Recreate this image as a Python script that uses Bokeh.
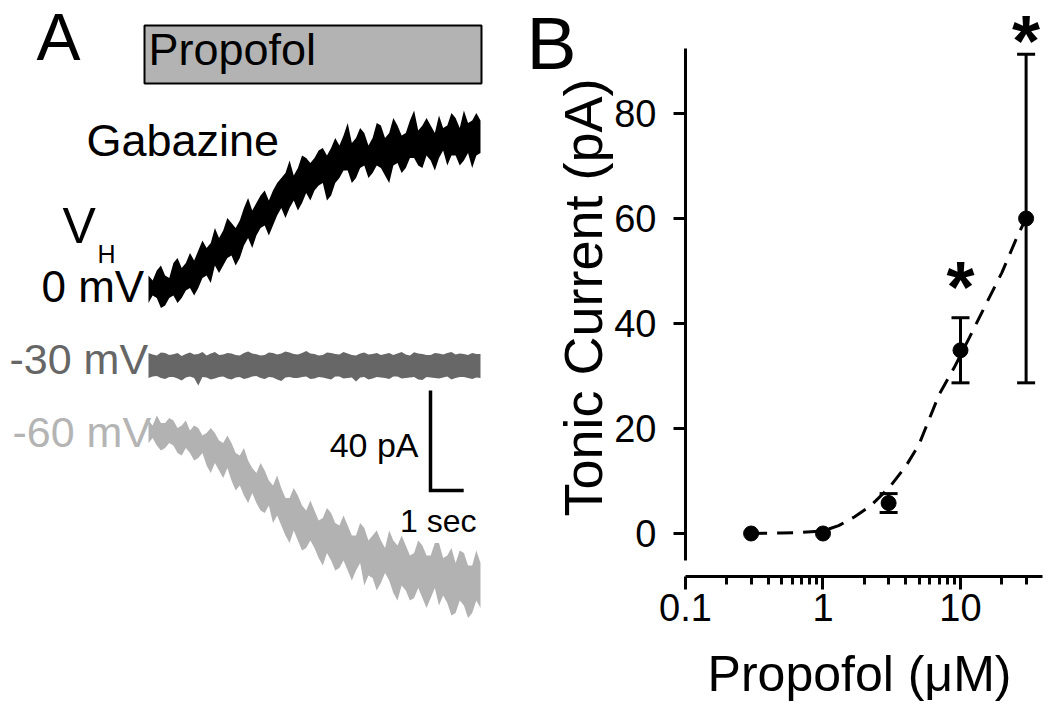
from bokeh.plotting import figure
from bokeh.models import (Range1d, FixedTicker, CustomJSTickFormatter, Whisker,
                          TeeHead, ColumnDataSource, LogScale, LogAxis,
                          LinearAxis)
from bokeh.core.properties import value
from bokeh.embed import file_html
from bokeh.resources import INLINE

FONT = "Liberation Sans"

# ---------------- Panel A data (time in s, current in pA, traces offset) ----
time_s = [i / 8 for i in range(81)]

# 0 mV (black) trace envelope
v0_upper = [36, 34, 38, 40, 36, 35, 41, 43, 39, 41, 45, 42,
            46, 50, 47, 49,
            55, 51, 54, 59, 57, 55, 58, 63, 67, 62, 65, 68, 70, 66, 70, 73,
            75, 77, 82, 76, 79, 84, 83, 81, 83,
            86, 87, 84, 87, 91, 88, 92, 97,
            89, 91, 95, 93,
            88, 91, 97, 96, 91, 93, 99, 96, 92, 93, 98, 102, 94, 96, 99, 96,
            93, 100, 95, 96, 101, 99, 95, 102, 97, 98, 101, 98]
v0_lower = [25, 28, 27, 23, 24, 27, 28, 25, 27, 30, 31, 28,
            31, 35, 36, 33,
            40, 37, 40, 43, 44, 40, 43, 48, 51, 47, 52, 55, 56, 52, 56, 60,
            63, 59, 63, 66, 62, 65, 69, 66, 70,
            72, 73, 66, 68, 73, 75, 78, 78,
            73, 75, 79, 80,
            75, 77, 80, 79, 76, 73, 80, 81, 77, 79, 83, 83, 80, 79, 84, 82,
            78, 83, 86, 80, 84, 84, 80, 82, 85, 79, 84, 85]

# -30 mV (dark grey) trace envelope
v30_upper = [5, 4.4, 4, 5.2, 5, 4.2, 4.5, 5, 3.8, 4.6, 5.2, 4.4, 4.6, 5.4, 4,
             4.8, 5.4, 4.2, 4.4, 5, 4.8, 4.2, 4, 5, 5.6, 4.8, 4.5, 4, 4.2,
             5.2, 5, 4.4, 4.8, 5.6, 5.2, 4.6, 4.4, 5, 5.8, 4.8, 4.6, 4, 4.2,
             5.2, 5, 4.6, 4.4, 5.4, 4.8, 4.2, 4, 4.8, 5.2, 4.4, 4.6, 5, 4.2,
             4.6, 5, 4.2, 4.8, 5.4, 4.4, 4, 5.3, 4.8, 4.6, 4.2, 4.2, 5, 4.8,
             4.4, 5, 5.4, 4.4, 4.8, 4.6, 4.2, 5, 4.6, 4.6]
v30_lower = [-5, -4.4, -4.2, -5, -5.4, -4.6, -4.6, -5.2, -6, -4.8, -4.4, -5,
             -8, -4.6, -4.8, -5.6, -5.2, -4.6, -4.4, -5.2, -5.6, -4.8, -4.6,
             -5.4, -5, -4.4, -4.2, -5, -5.4, -4.6, -4.8, -5.6, -6.2, -4.8,
             -4.6, -5, -5, -4.6, -4.4, -5.4, -5.2, -4.6, -4.8, -5.2, -5.6,
             -4.4, -4.4, -5.2, -5, -4.8, -6.4, -4.8, -4.6, -5.6, -5.2, -4.6,
             -4.8, -5, -5.4, -4.4, -4.4, -5.2, -5, -4.8, -4.6, -5.6, -5.8,
             -4.6, -4.8, -5, -5.2, -4.8, -4.4, -5.6, -5, -4.6, -4.6, -5, -5.4,
             -4.8, -5]

# -60 mV (light grey) trace envelope
v60_upper = [-22, -24, -20, -23, -23, -21, -22, -25, -24, -22, -26, -24, -25,
             -28, -27, -25, -27, -30, -31, -28, -31, -35, -36, -33, -38, -41,
             -43, -39, -42, -46, -48, -44, -49, -53, -53, -49, -52, -56, -58,
             -54, -58, -62, -61, -57, -59, -63, -64, -60, -64, -68, -68, -63,
             -65, -70, -68, -66, -70, -73, -66, -70, -72, -68, -72, -76, -75,
             -70, -72, -76, -76, -71, -71, -77, -76, -73, -79, -74, -75, -80,
             -80, -74, -79]
v60_lower = [-31, -29, -32, -34, -33, -31, -32, -35, -36, -33, -35, -38, -37,
             -35, -40, -43, -39, -42, -45, -41, -46, -50, -48, -52, -55, -51,
             -55, -58, -59, -56, -63, -60, -64, -68, -71, -66, -70, -74, -73,
             -70, -73, -77, -80, -75, -78, -82, -81, -78, -82, -86, -82, -79,
             -88, -84, -85, -90, -87, -83, -86, -91, -94, -88, -90, -94, -93,
             -89, -93, -97, -93, -89, -96, -92, -95, -100, -99, -94, -96,
             -101, -99, -94, -97]

scale_pa = 40
scale_sec = 1

# ---------------- Panel B data ----------------
conc = [0.3, 1, 3, 10, 30]
tonic = [0.0, 0.0, 5.8, 34.9, 60.0]
err = [0.0, 0.0, 1.8, 6.2, 31.3]

fit_x = [0.3, 0.5, 0.7, 1.0, 1.3, 1.7, 2.2, 3.0, 4.0, 5.0, 7.0, 9.0, 11.6,
         15.4, 20.0, 26.4, 30.0]
fit_y = [0.0, 0.1, 0.2, 0.5, 1.5, 3.2, 5.2, 8.6, 12.8, 17.0, 26.5, 31.6, 37.3,
         43.8, 49.7, 57.1, 60.0]

sig_conc = [10, 30]
sig_y = [46.9, 93.9]

x_major = [0.1, 1, 10]
x_minor = [0.2, 0.3, 0.4, 0.5, 0.6, 0.7, 0.8, 0.9, 2, 3, 4, 5, 6, 7, 8, 9, 20, 30]
y_major = [0, 20, 40, 60, 80]

# ================= one canvas, two coordinate systems =================
p = figure(width=1044, height=706, output_backend="svg", toolbar_location=None,
           x_range=Range1d(-4.4578, 26.988), y_range=Range1d(-136.4, 146.0),
           x_axis_location=None, y_axis_location=None,
           min_border=0, min_border_left=0, min_border_right=0,
           min_border_top=0, min_border_bottom=0)
p.grid.visible = False
p.outline_line_color = None
p.extra_x_ranges = {"b": Range1d(10 ** -5.98182, 10 ** 1.61091)}
p.extra_x_scales = {"b": LogScale()}
p.extra_y_ranges = {"b": Range1d(-32.952, 101.524)}

# ---- Panel A ----
p.varea(x=time_s, y1=v60_lower, y2=v60_upper, fill_color="#b2b2b2")
p.varea(x=time_s, y1=v30_lower, y2=v30_upper, fill_color="#676767")
p.varea(x=time_s, y1=v0_lower, y2=v0_upper, fill_color="#000000")

p.quad(left=[-0.12], right=[10.03], bottom=[112.8], top=[136.0],
       fill_color="#b3b3b3", line_color="black", line_width=2)

sb_t, sb_y = 8.494, -50.0
p.line([sb_t, sb_t, sb_t + scale_sec], [sb_y + scale_pa, sb_y, sb_y],
       line_color="black", line_width=3.5, line_join="miter")


def txt(x, y, s, size, color="black", align="left", bold=False, angle=0.0):
    p.text(x=[x], y=[y], text=[s], text_font=value(FONT),
           text_font_size=size, text_color=color, text_align=align,
           text_baseline="alphabetic", angle=angle,
           text_font_style="bold" if bold else "normal")


txt(-3.373, 131.4, "A", "66px")
txt(0.0, 126.3, "Propofol", "45px")
txt(-1.867, 90.2, "Gabazine", "45px")
txt(-2.59, 55.8, "V", "50px")
txt(-1.536, 44.7, "H", "25px")
txt(-3.223, 31.7, "0 mV", "44px")
txt(-4.187, 2.7, "-30 mV", "43px", color="#666666")
txt(-4.096, -26.5, "-60 mV", "43px", color="#b4b4b4")
txt(8.133, -31.8, "%d pA" % scale_pa, "34px", align="right")
txt(9.88, -62.2, "%d sec" % scale_sec, "32px", align="right")

# ---- Panel B ----
txt(11.386, 128.9, "B", "75px")
txt(21.416, -123.4, "Propofol (\u03bcM)", "50px", align="center")
txt(13.087, 27.2, "Tonic Current (pA)", "54px", align="center", angle=1.5708)

p.line(fit_x, fit_y, line_color="black", line_width=3, line_dash="16 10",
       x_range_name="b", y_range_name="b")

src = ColumnDataSource(dict(
    x=[c for c, e in zip(conc, err) if e > 0],
    upper=[m + e for m, e in zip(tonic, err) if e > 0],
    lower=[m - e for m, e in zip(tonic, err) if e > 0]))
wh = Whisker(base="x", upper="upper", lower="lower", source=src,
             dimension="height", line_width=3, line_color="black",
             x_range_name="b", y_range_name="b",
             upper_head=TeeHead(size=18, line_width=3, line_color="black"),
             lower_head=TeeHead(size=18, line_width=3, line_color="black"))
p.add_layout(wh)

p.scatter(conc, tonic, size=15, color="black", x_range_name="b",
          y_range_name="b")

p.text(x=sig_conc, y=sig_y, text=["*"] * len(sig_conc),
       text_font=value(FONT), text_font_size="72px", text_font_style="bold",
       text_align="center", text_baseline="alphabetic",
       x_range_name="b", y_range_name="b")

xa = LogAxis(x_range_name="b", y_range_name="b", fixed_location=-8.19,
             bounds=(0.1, 39.5))
xa.ticker = FixedTicker(ticks=x_major, minor_ticks=x_minor)
xa.formatter = CustomJSTickFormatter(code="return tick.toString();")
ya = LinearAxis(x_range_name="b", y_range_name="b", fixed_location=0.1,
                bounds=(-5.1, 92.4))
ya.ticker = FixedTicker(ticks=y_major, minor_ticks=[])

for ax in (xa, ya):
    ax.axis_line_width = 3
    ax.major_tick_line_width = 3
    ax.minor_tick_line_width = 3
    ax.major_tick_in = 0
    ax.minor_tick_in = 0
    ax.major_label_text_font = FONT
    ax.major_label_text_font_size = "38px"
    ax.major_label_text_color = "black"

xa.major_tick_out = 13
xa.minor_tick_out = 8
xa.major_label_standoff = 5
ya.major_tick_out = 12
ya.minor_tick_out = 0
ya.major_label_standoff = 17

p.add_layout(xa, "below")
p.add_layout(ya, "left")

open("out.html", "w").write(file_html(p, INLINE))
